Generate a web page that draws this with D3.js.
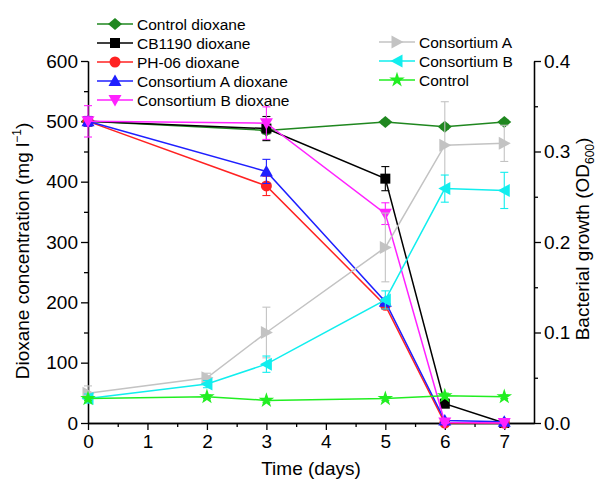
<!DOCTYPE html>
<html>
<head>
<meta charset="utf-8">
<script src="https://cdn.jsdelivr.net/npm/d3@7"></script>
<style>
  body { margin: 0; background: #fff; }
  svg text { font-family: "Liberation Sans", Arial, sans-serif; fill: #000; }
</style>
</head>
<body>
<svg id="chart" width="602" height="479"></svg>
<script>
const width = 602;
const height = 479;
const marginTop = 61;
const marginRight = 68;
const marginBottom = 56;
const marginLeft = 88;

// dioxane (left axis), mg/l
const dioxaneDays = [0, 3, 5, 6, 7];
const controlDioxane = [500, 485, 499, 491, 499];
const controlDioxaneErr = [5, 6, 3, 4, 3];
const cb1190Dioxane = [500, 488, 405, 32, 0];
const cb1190DioxaneErr = [5, 20, 20, 5, 0];
const ph06Dioxane = [500, 393, 195, 0, 0];
const ph06DioxaneErr = [8, 16, 5, 0, 0];
const consortiumADioxane = [500, 417, 201, 4, 2];
const consortiumADioxaneErr = [8, 20, 6, 2, 2];
const consortiumBDioxane = [500, 497, 347, 1, 0];
const consortiumBDioxaneErr = [26, 27, 18, 2, 0];

// bacterial growth (right axis), OD600
const odDays = [0, 2, 3, 5, 6, 7];
const consortiumA = [0.033, 0.050, 0.100, 0.194, 0.307, 0.309];
const consortiumAErr = [0.008, 0.005, 0.028, 0.038, 0.048, 0.02];
const consortiumB = [0.027, 0.043, 0.065, 0.136, 0.259, 0.257];
const consortiumBErr = [0.005, 0.004, 0.009, 0.01, 0.015, 0.02];
const control = [0.027, 0.029, 0.025, 0.027, 0.030, 0.029];
const controlErr = [0.002, 0.002, 0.002, 0.002, 0.003, 0.002];

const xTicks = [0, 1, 2, 3, 4, 5, 6, 7];
const yTicks = [0, 100, 200, 300, 400, 500, 600];
const yRightTicks = [0, 0.1, 0.2, 0.3, 0.4];

const xScale = d3.scaleLinear().domain([0, 7.5]).range([marginLeft, width - marginRight]);
const yScale = d3.scaleLinear().domain([0, 600]).range([height - marginBottom - 0, marginTop]);
const yScaleOD = d3.scaleLinear().domain([0, 0.4]).range([height - marginBottom - 0, marginTop]);

const series = [
  { name: "Control dioxane", days: dioxaneDays, values: controlDioxane, err: controlDioxaneErr, color: "#1f871f", marker: "diamond", y: yScale },
  { name: "CB1190 dioxane", days: dioxaneDays, values: cb1190Dioxane, err: cb1190DioxaneErr, color: "#000000", marker: "square", y: yScale },
  { name: "PH-06 dioxane", days: dioxaneDays, values: ph06Dioxane, err: ph06DioxaneErr, color: "#ff2222", marker: "circle", y: yScale },
  { name: "Consortium A dioxane", days: dioxaneDays, values: consortiumADioxane, err: consortiumADioxaneErr, color: "#1f1fff", marker: "up", y: yScale },
  { name: "Consortium B dioxane", days: dioxaneDays, values: consortiumBDioxane, err: consortiumBDioxaneErr, color: "#ff22ff", marker: "down", y: yScale },
  { name: "Consortium A", days: odDays, values: consortiumA, err: consortiumAErr, color: "#c3c3c3", marker: "right", y: yScaleOD },
  { name: "Consortium B", days: odDays, values: consortiumB, err: consortiumBErr, color: "#11eeee", marker: "left", y: yScaleOD },
  { name: "Control", days: odDays, values: control, err: controlErr, color: "#22ee22", marker: "star", y: yScaleOD }
];

function markerPath(type) {
  switch (type) {
    case "diamond": return "M0,-6L7,0L0,6L-7,0Z";
    case "square": return "M-5,-5H5V5H-5Z";
    case "circle": return d3.symbol(d3.symbolCircle, Math.PI * 5.5 * 5.5)();
    case "up": return "M0,-6.5L6.5,5L-6.5,5Z";
    case "down": return "M0,6.5L6.5,-5L-6.5,-5Z";
    case "right": return "M6.5,0L-5.5,6.5L-5.5,-6.5Z";
    case "left": return "M-6.5,0L5.5,6.5L5.5,-6.5Z";
    case "star": return d3.symbol(d3.symbolStar, 75)();
  }
}

const svg = d3.select("#chart");

// axes
const axisG = svg.append("g").attr("stroke-width", 1.3);

const xAxis = axisG.append("g").attr("transform", `translate(0,${yScale(0)})`)
  .call(d3.axisBottom(xScale).tickValues(xTicks).tickSize(7).tickPadding(5).tickSizeOuter(0).tickFormat(d3.format("d")));
axisG.append("g").attr("transform", `translate(0,${yScale(0)})`)
  .call(d3.axisBottom(xScale).tickValues(d3.range(0.5, 7.5, 1)).tickSize(4).tickFormat("").tickSizeOuter(0));

axisG.append("g").attr("transform", `translate(${marginLeft},0)`)
  .call(d3.axisLeft(yScale).tickValues(yTicks).tickSize(7).tickPadding(3).tickSizeOuter(0));
axisG.append("g").attr("transform", `translate(${marginLeft},0)`)
  .call(d3.axisLeft(yScale).tickValues(d3.range(50, 600, 100)).tickSize(4).tickFormat("").tickSizeOuter(0));

axisG.append("g").attr("transform", `translate(${width - marginRight},0)`)
  .call(d3.axisRight(yScaleOD).tickValues(yRightTicks).tickSize(7).tickPadding(3).tickSizeOuter(0).tickFormat(d3.format(".1f")));
axisG.append("g").attr("transform", `translate(${width - marginRight},0)`)
  .call(d3.axisRight(yScaleOD).tickValues(d3.range(0.05, 0.4, 0.1)).tickSize(4).tickFormat("").tickSizeOuter(0));

axisG.selectAll(".domain, .tick line").attr("stroke", "#000");
axisG.selectAll(".tick text").attr("font-size", 19).attr("font-family", "Liberation Sans, Arial, sans-serif");

// series
series.forEach((s) => {
  const pts = s.days.map((d, i) => ({ day: d, value: s.values[i], err: s.err[i] }));
  const g = svg.append("g");
  const line = d3.line().x((p) => xScale(p.day)).y((p) => s.y(p.value));
  g.append("path").datum(pts).attr("d", line)
    .attr("fill", "none").attr("stroke", s.color).attr("stroke-width", 1.5);
  const eb = g.selectAll(".eb").data(pts.filter((p) => p.err > 0)).join("g")
    .attr("stroke", s.color).attr("stroke-width", 1.1);
  eb.append("line")
    .attr("x1", (p) => xScale(p.day)).attr("x2", (p) => xScale(p.day))
    .attr("y1", (p) => s.y(p.value - p.err)).attr("y2", (p) => s.y(p.value + p.err));
  [-1, 1].forEach((sign) => {
    eb.append("line")
      .attr("x1", (p) => xScale(p.day) - 4).attr("x2", (p) => xScale(p.day) + 4)
      .attr("y1", (p) => s.y(p.value + sign * p.err)).attr("y2", (p) => s.y(p.value + sign * p.err));
  });
  g.selectAll(".mk").data(pts).join("path")
    .attr("d", markerPath(s.marker))
    .attr("transform", (p) => `translate(${xScale(p.day)},${s.y(p.value)})`)
    .attr("fill", s.color);
});

// legends
function legend(items, x0, y0, dy) {
  const g = svg.append("g");
  items.forEach((s, i) => {
    const y = y0 + i * dy;
    g.append("line").attr("x1", x0).attr("x2", x0 + 36).attr("y1", y).attr("y2", y)
      .attr("stroke", s.color).attr("stroke-width", 1.5);
    g.append("path").attr("d", markerPath(s.marker)).attr("fill", s.color)
      .attr("transform", `translate(${x0 + 18},${y})`);
    g.append("text").attr("x", x0 + 40).attr("y", y).attr("dy", "0.36em")
      .attr("font-size", 15.5).text(s.name);
  });
}
legend(series.slice(0, 5), 97, 24, 19);
legend(series.slice(5), 379, 42, 19);

// axis titles
svg.append("text").attr("x", (marginLeft + width - marginRight) / 2 + 0).attr("y", 475)
  .attr("text-anchor", "middle").attr("font-size", 19).text("Time (days)");

const lt = svg.append("text").attr("transform", "translate(29,251) rotate(-90)")
  .attr("text-anchor", "middle").attr("font-size", 19);
lt.append("tspan").text("Dioxane concentration (mg l");
lt.append("tspan").attr("font-size", 12).attr("dy", -8).text("\u22121");
lt.append("tspan").attr("dy", 8).text(")");

const rt = svg.append("text").attr("transform", "translate(589,239) rotate(-90)")
  .attr("text-anchor", "middle").attr("font-size", 19);
rt.append("tspan").text("Bacterial growth (OD");
rt.append("tspan").attr("font-size", 12).attr("dy", 5).text("600");
rt.append("tspan").attr("dy", -5).text(")");
</script>
</body>
</html>
